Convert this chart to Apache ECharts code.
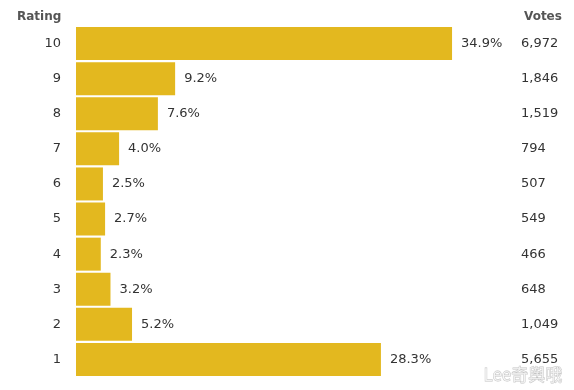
<!DOCTYPE html>
<html>
<head>
<meta charset="utf-8">
<script src="https://cdn.jsdelivr.net/npm/echarts@6/dist/echarts.min.js"></script>
<style>html,body{margin:0;padding:0;background:#fff;}#c{width:574px;height:390px;}</style>
</head>
<body>
<div id="c"></div>
<script>
var ratings = ['10','9','8','7','6','5','4','3','2','1'];
var percents = [34.9, 9.2, 7.6, 4.0, 2.5, 2.7, 2.3, 3.2, 5.2, 28.3];
var votes = ['6,972','1,846','1,519','794','507','549','466','648','1,049','5,655'];

var FONT = 'DejaVu Sans';
var chart = echarts.init(document.getElementById('c'));
chart.setOption({
  backgroundColor: '#ffffff',
  animation: false,
  grid: { left: 76, right: 67, top: 26, bottom: 13 },
  xAxis: { type: 'value', min: 0, max: 40, show: false },
  yAxis: [
    { type: 'category', data: ratings, inverse: true,
      axisLine: { show: false }, axisTick: { show: false }, splitLine: { show: false },
      axisLabel: { margin: 15, color: '#333', fontFamily: FONT, fontSize: 13 } },
    { type: 'category', data: votes, inverse: true, position: 'right',
      axisLine: { show: false }, axisTick: { show: false }, splitLine: { show: false },
      axisLabel: { margin: 14, align: 'left', color: '#333', fontFamily: FONT, fontSize: 13 } }
  ],
  series: [{
    type: 'bar', data: percents, yAxisIndex: 0,
    barCategoryGap: '6%',
    itemStyle: { color: '#E3B81F' },
    label: { show: true, position: 'right', distance: 9, color: '#333',
      fontFamily: FONT, fontSize: 13,
      formatter: function (p) { return p.value.toFixed(1) + '%'; } }
  }],
  graphic: [
    { type: 'text', left: 17, top: 11, style: { text: 'Rating', fill: '#555', font: 'bold 12px "DejaVu Sans"' } },
    { type: 'text', left: 524, top: 11, style: { text: 'Votes', fill: '#555', font: 'bold 12px "DejaVu Sans"' } },
    { type: 'text', left: 483, top: 366, style: { text: 'Lee奇舆哦', fill: 'rgba(255,255,255,0.6)', stroke: 'rgba(170,170,170,0.7)', lineWidth: 0.8, font: '17px "Noto Sans CJK SC"' } }
  ]
});
</script>
</body>
</html>
